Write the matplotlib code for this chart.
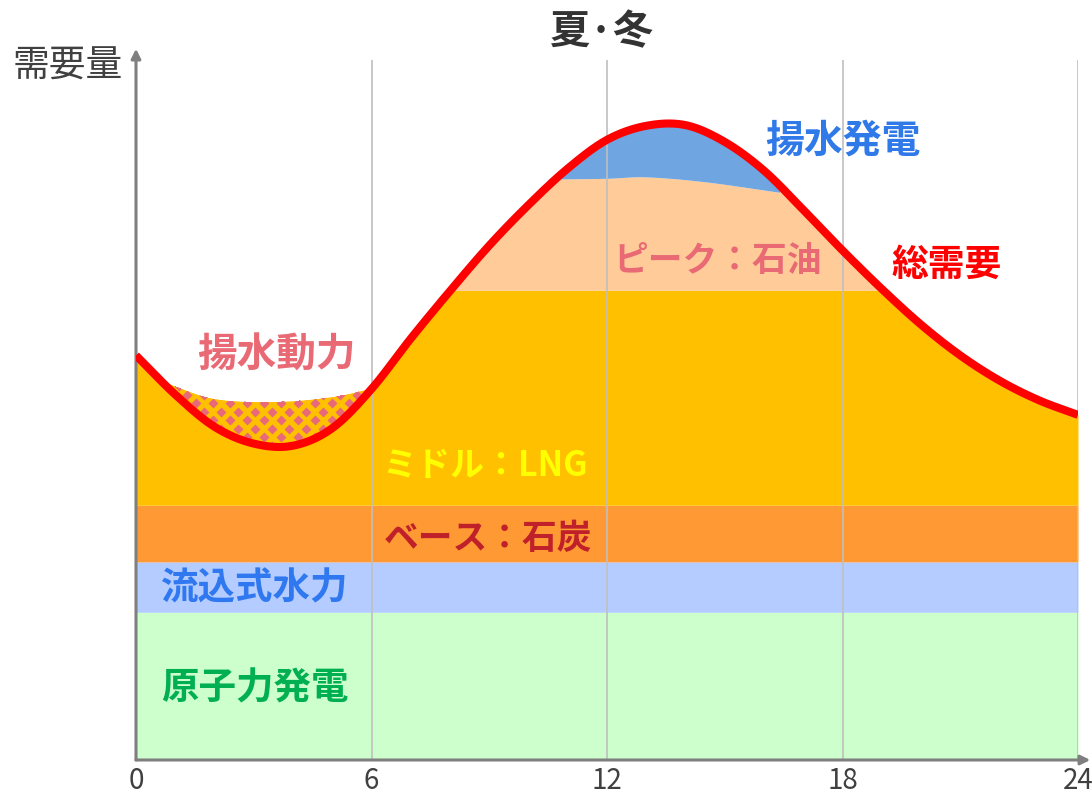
import numpy as np
import matplotlib
matplotlib.use("Agg")
import matplotlib.pyplot as plt

plt.rcParams['font.family'] = ['Noto Sans CJK JP', 'DejaVu Sans']

# hourly total demand (relative units, 0-100 axis)
hours = list(range(25))
demand = [57.8, 52.2, 47.6, 45.2, 44.9, 47.4, 53.0, 60.2, 67.0, 73.5, 79.3,
          84.5, 88.6, 90.6, 90.7, 88.3, 84.2, 78.6, 72.8, 67.3, 62.2, 57.8,
          54.2, 51.4, 49.3]

# flat supply bands
nuclear_top = 21.1
hydro_top = 28.3
coal_top = 36.4
lng_top = 67.1

# night-time pumping load (upper edge of the pumped-storage band)
pump_hours = [0.75, 2.0, 3.6, 5.0, 6.0]
pump_top = [53.9, 51.6, 51.2, 51.9, 53.1]

# upper edge of oil-fired peak supply
peak_hours = [10.6, 12.0, 13.0, 14.5, 16.4]
peak_top = [83.0, 83.1, 83.3, 82.6, 81.1]

xticks = [0, 6, 12, 18, 24]


def smooth(xs, ys, n=40):
    """Catmull-Rom curve through the points (like a smoothed line chart)."""
    x = np.asarray(xs, float)
    y = np.asarray(ys, float)
    px = np.r_[2 * x[0] - x[1], x, 2 * x[-1] - x[-2]]
    py = np.r_[2 * y[0] - y[1], y, 2 * y[-1] - y[-2]]
    t = np.linspace(0, 1, n, endpoint=False)
    ox, oy = [], []
    for i in range(1, len(px) - 2):
        for p, o in ((px, ox), (py, oy)):
            p0, p1, p2, p3 = p[i - 1], p[i], p[i + 1], p[i + 2]
            o.extend(0.5 * (2 * p1 + (-p0 + p2) * t
                            + (2 * p0 - 5 * p1 + 4 * p2 - p3) * t ** 2
                            + (-p0 + 3 * p1 - 3 * p2 + p3) * t ** 3))
    ox.append(x[-1])
    oy.append(y[-1])
    return np.array(ox), np.array(oy)


xg = np.linspace(0, 24, 2401)
dem = np.interp(xg, *smooth(hours, demand))
pump = np.interp(xg, *smooth(pump_hours, pump_top), left=np.nan, right=np.nan)
peak = np.interp(xg, *smooth(peak_hours, peak_top), left=200, right=200)

fig = plt.figure(figsize=(10.92, 7.95), dpi=100)
ax = fig.add_axes([136 / 1092, 35 / 795, 942 / 1092, 700 / 795])
ax.set_xlim(0, 24)
ax.set_ylim(0, 100)

gold = '#FFC000'
ax.fill_between(xg, 0, nuclear_top, color='#CCFFCC', lw=0)
ax.fill_between(xg, nuclear_top, hydro_top, color='#B4CCFF', lw=0)
ax.fill_between(xg, hydro_top, coal_top, color='#FF9933', lw=0)
upper = np.minimum(np.fmax(dem, pump), lng_top)
ax.fill_between(xg, coal_top, upper, color=gold, lw=0)
ax.fill_between(xg, lng_top, np.minimum(dem, peak), where=dem > lng_top,
                color='#FFCC99', lw=0)
ax.fill_between(xg, peak, dem, where=dem > peak, color='#6FA5E0', lw=0)

# pumped-storage load: diamond pattern between demand and pump line
pmask = np.nan_to_num(pump) > dem
band = ax.fill_between(xg, dem, np.where(pmask, pump, dem), where=pmask,
                       color=gold, lw=0)
dx, dy = 17 / 39.25, 8.5 / 7.0
gx, gy = [], []
for j, yy in enumerate(np.arange(40, 60, dy)):
    off = (j % 2) * dx / 2
    for xx in np.arange(0, 7, dx):
        gx.append(xx + off)
        gy.append(yy)
dots, = ax.plot(gx, gy, ls='none', marker='D', ms=4.6, mec='none',
                mfc='#E8697A', zorder=2)
dots.set_clip_path(band.get_paths()[0], ax.transData)

ax.vlines([6, 12, 18, 24], 0, 100, color='#BFBFBF', lw=1.2, zorder=3)
ax.plot(xg, dem, color='#FF0000', lw=5.8, zorder=4, solid_capstyle='butt')

# axes with arrow heads
for s in ax.spines.values():
    s.set_visible(False)
ax.annotate('', xy=(0, 1.016), xytext=(0, 0), xycoords='axes fraction',
            arrowprops=dict(arrowstyle='-|>', color='#7F7F7F', lw=2.2,
                            mutation_scale=14, shrinkA=0, shrinkB=0))
ax.annotate('', xy=(1.013, 0), xytext=(0, 0), xycoords='axes fraction',
            arrowprops=dict(arrowstyle='-|>', color='#7F7F7F', lw=2.2,
                            mutation_scale=14, shrinkA=0, shrinkB=0))

ax.set_yticks([])
ax.set_xticks(xticks)
ax.set_xticklabels([str(v) for v in xticks], fontsize=20, color='#404040')
ax.tick_params(axis='x', length=0, pad=4)

lab = dict(ha='center', va='center', fontweight='bold', zorder=5)
ax.text(3.59, 57.9, '揚水動力', fontsize=28.5, color='#E96A74', **lab)
ax.text(18.0, 88.4, '揚水発電', fontsize=28, color='#3079E8', **lab)
ax.text(14.83, 71.4, 'ピーク：石油', fontsize=25, color='#E96A74', **lab)
ax.text(20.66, 70.7, '総需要', fontsize=26.5, color='#FF0000', **lab)
ax.text(8.89, 42.1, 'ミドル：LNG', fontsize=24.5, color='#FFFF00', **lab)
ax.text(8.97, 31.7, 'ベース：石炭', fontsize=25, color='#C0202A', **lab)
ax.text(3.03, 24.6, '流込式水力', fontsize=27, color='#3078F0', **lab)
ax.text(3.03, 10.3, '原子力発電', fontsize=27, color='#00B050', **lab)

fig.text(68 / 1092, 1 - 66 / 795, '需要量', fontsize=26.5, color='#404040',
         ha='center', va='center')
fig.text(602 / 1092, 1 - 33 / 795, '夏·冬', fontsize=29, color='#333333',
         fontweight='bold', ha='center', va='center')

fig.savefig('out.png', dpi=100)
